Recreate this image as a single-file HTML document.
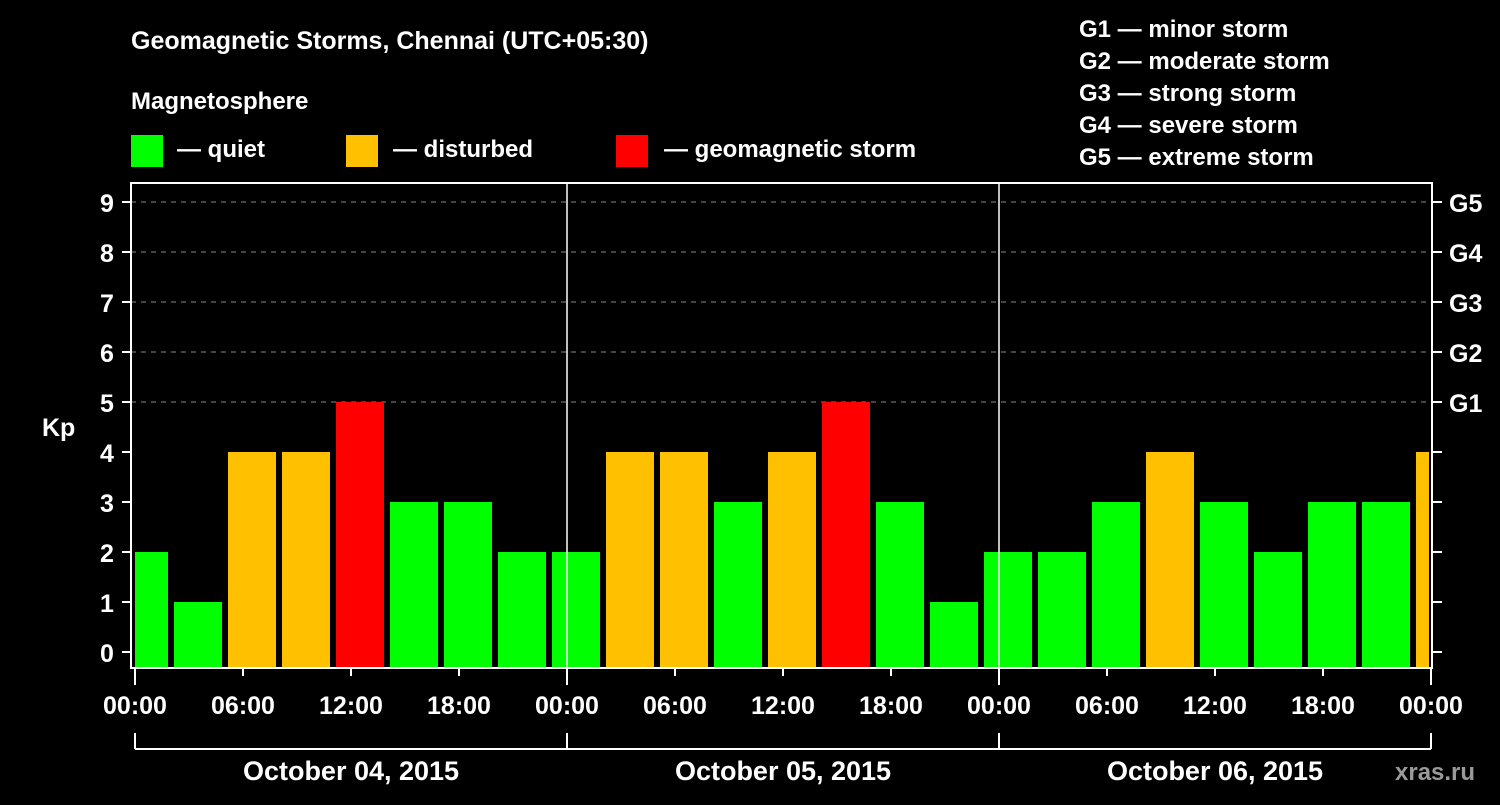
<!DOCTYPE html>
<html><head><meta charset="utf-8"><style>
body{margin:0;background:#000;}
svg text{font-family:"Liberation Sans",Arial,sans-serif;font-weight:bold;fill:#fff;}
</style></head><body>
<svg id="chart" width="1500" height="800" viewBox="0 0 1500 800" xmlns="http://www.w3.org/2000/svg">
<rect width="1500" height="800" fill="#000"/>
<text x="131" y="49" font-size="25">Geomagnetic Storms, Chennai (UTC+05:30)</text>
<text x="131" y="109" font-size="24">Magnetosphere</text>
<g><rect x="131" y="135" width="32" height="32" fill="#00ff00"/><text x="177" y="157" font-size="24">— quiet</text></g>
<g><rect x="346" y="135" width="32" height="32" fill="#ffc000"/><text x="393" y="157" font-size="24">— disturbed</text></g>
<g><rect x="616" y="135" width="32" height="32" fill="#ff0000"/><text x="664" y="157" font-size="24">— geomagnetic storm</text></g>
<g font-size="24">
<text x="1079" y="37">G1 — minor storm</text>
<text x="1079" y="69">G2 — moderate storm</text>
<text x="1079" y="101">G3 — strong storm</text>
<text x="1079" y="133">G4 — severe storm</text>
<text x="1079" y="165">G5 — extreme storm</text>
</g>
<g id="grid"></g>
<g id="bars"></g>
<g id="axes"></g>
<text x="42" y="436" font-size="25">Kp</text>
<text x="1395" y="780" font-size="24" fill="#999" style="fill:#9a9a9a">xras.ru</text>
</svg>
<script>
const kpValues=[2,1,4,4,5,3,3,2,2,4,4,3,4,5,3,1,2,2,3,4,3,2,3,3,4];
const yTicks=[0,1,2,3,4,5,6,7,8,9];
const gLabels=["G1","G2","G3","G4","G5"];
const gLevels=[5,6,7,8,9];
const hourLabels=["00:00","06:00","12:00","18:00"];
const dayLabels=["October 04, 2015","October 05, 2015","October 06, 2015"];
const NS="http://www.w3.org/2000/svg";
const L=131,R=1432,T=183,B=668,X0=135,DAYW=432;
function y(v){return 652-v*50;}
function xh(h){return X0+h*18;} // hours from start
function mk(tag,attrs,parent){const e=document.createElementNS(NS,tag);for(const k in attrs)e.setAttribute(k,attrs[k]);parent.appendChild(e);return e;}
const grid=document.getElementById('grid'),bars=document.getElementById('bars'),axes=document.getElementById('axes');
gLevels.forEach((v,i)=>{
  const l=mk('line',{x1:L,x2:R,y1:y(v),y2:y(v),stroke:'#888','stroke-dasharray':'5,5','stroke-width':1},grid);
  
  
  const t=mk('text',{x:1449,y:y(v)+10,'font-size':25},axes);t.textContent=gLabels[i];
  
  
});
kpValues.forEach((v,k)=>{
  let x1=xh(-0.833+3*k), x2=x1+48;
  x1=Math.max(x1,X0);x2=Math.min(x2,R-3);
  const c=v>=5?'#ff0000':(v>=4?'#ffc000':'#00ff00');
  const r=mk('rect',{x:x1,y:y(v),width:x2-x1,height:B-y(v),fill:c},bars);
  
  
});
// frame
const f=mk('rect',{x:L,y:T,width:R-L,height:B-T,fill:'none',stroke:'#fff','stroke-width':2},axes);


yTicks.forEach(v=>{
  mk('line',{x1:122,x2:L,y1:y(v),y2:y(v),stroke:'#fff','stroke-width':2},axes);
  mk('line',{x1:R,x2:1442,y1:y(v),y2:y(v),stroke:'#fff','stroke-width':2},axes);
  const t=mk('text',{x:107,y:y(v)+10,'font-size':25,'text-anchor':'middle'},axes);t.textContent=v;
  
  
});
for(let d=0;d<=3;d++){
  const xd=X0+d*DAYW;
  if(d>0&&d<3){const l=mk('line',{x1:xd,x2:xd,y1:T,y2:B,stroke:'#fff','stroke-width':1.5},axes);
    
    }
  mk('line',{x1:xd,x2:xd,y1:733,y2:749,stroke:'#fff','stroke-width':2},axes);
}
mk('line',{x1:X0,x2:X0+3*DAYW,y1:749,y2:749,stroke:'#fff','stroke-width':2},axes);
for(let i=0;i<=12;i++){
  const x=X0+i*108;
  mk('line',{x1:x,x2:x,y1:B,y2:i%4==0?685:676,stroke:'#fff','stroke-width':2},axes);
  const t=mk('text',{x:x,y:714,'font-size':25,'text-anchor':'middle'},axes);t.textContent=hourLabels[i%4];
  
  
}
dayLabels.forEach((s,d)=>{
  const t=mk('text',{x:X0+d*DAYW+DAYW/2,y:780,'font-size':27,'text-anchor':'middle'},axes);t.textContent=s;
  
  
});
</script>
</body></html>
